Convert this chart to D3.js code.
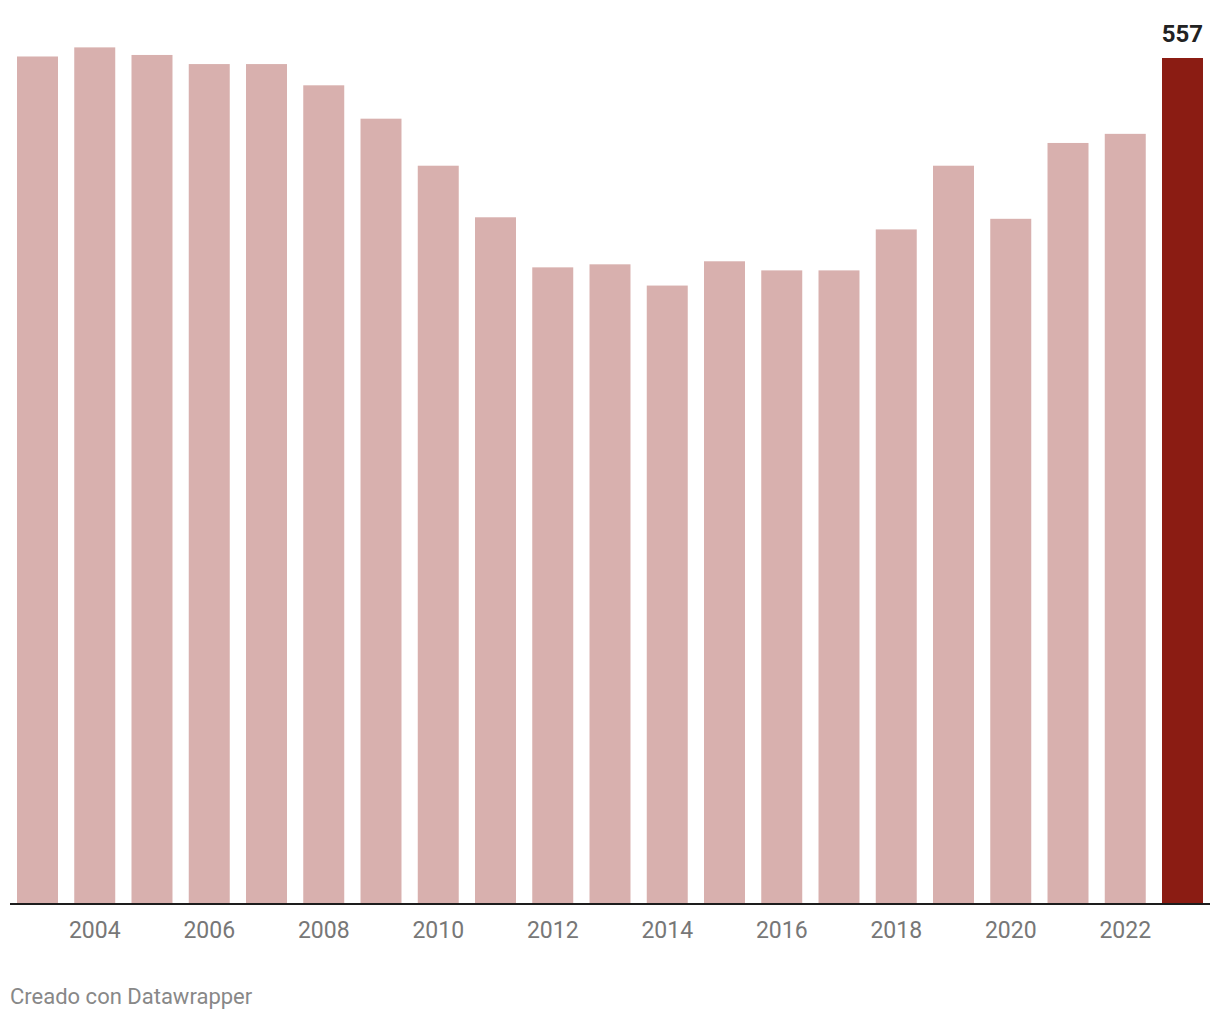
<!DOCTYPE html>
<html>
<head>
<meta charset="utf-8">
<script src="https://cdn.jsdelivr.net/npm/d3@7"></script>
<style>
  html, body { margin: 0; padding: 0; background: #fff; }
  svg { display: block; }
</style>
</head>
<body>
<svg id="chart" width="1220" height="1020"></svg>
<script>
const years = [2003, 2004, 2005, 2006, 2007, 2008, 2009, 2010, 2011, 2012, 2013, 2014, 2015, 2016, 2017, 2018, 2019, 2020, 2021, 2022, 2023];
const values = [558, 564, 559, 553, 553, 539, 517, 486, 452, 419, 421, 407, 423, 417, 417, 444, 486, 451, 501, 507, 557];
const tickYears = [2004, 2006, 2008, 2010, 2012, 2014, 2016, 2018, 2020, 2022];
const highlightYear = 2023;
const footerText = "Creado con Datawrapper";

const svg = d3.select("#chart");
const baseline = 903;

const x = d3.scaleBand()
  .domain(years)
  .range([17, 1203])
  .paddingInner(0.284)
  .paddingOuter(0);

const y = d3.scaleLinear()
  .domain([0, 557])
  .range([baseline, 58]);

svg.append("g")
  .selectAll("rect")
  .data(years.map((yr, i) => ({ yr, v: values[i] })))
  .join("rect")
  .attr("x", d => x(d.yr))
  .attr("y", d => y(d.v))
  .attr("width", x.bandwidth())
  .attr("height", d => baseline - y(d.v))
  .attr("fill", d => d.yr === highlightYear ? "#8b1c13" : "#d8b0ae");

// baseline axis line
svg.append("line")
  .attr("x1", 10).attr("x2", 1210)
  .attr("y1", baseline + 1).attr("y2", baseline + 1)
  .attr("stroke", "#1d1d1d")
  .attr("stroke-width", 2);

// x axis tick labels
const xAxis = d3.axisBottom(x).tickValues(tickYears).tickSize(0).tickPadding(0);
const gAxis = svg.append("g")
  .attr("transform", `translate(0, ${baseline})`)
  .call(xAxis);
gAxis.select(".domain").remove();
gAxis.selectAll("text")
  .attr("y", 35)
  .attr("dy", null)
  .attr("fill", "#777")
  .style("font-family", "Roboto, sans-serif")
  .style("font-size", "23px");

// value label on highlighted bar
const hi = years.indexOf(highlightYear);
svg.append("text")
  .attr("x", x(highlightYear) + x.bandwidth())
  .attr("y", y(values[hi]) - 16)
  .attr("text-anchor", "end")
  .attr("fill", "#222")
  .style("font-family", "Roboto, sans-serif")
  .style("font-weight", "700")
  .style("font-size", "24px")
  .text(values[hi]);

// footer
svg.append("text")
  .attr("x", 10)
  .attr("y", 1004)
  .attr("fill", "#888")
  .style("font-family", "Roboto, sans-serif")
  .style("font-size", "22px")
  .text(footerText);
</script>
</body>
</html>
